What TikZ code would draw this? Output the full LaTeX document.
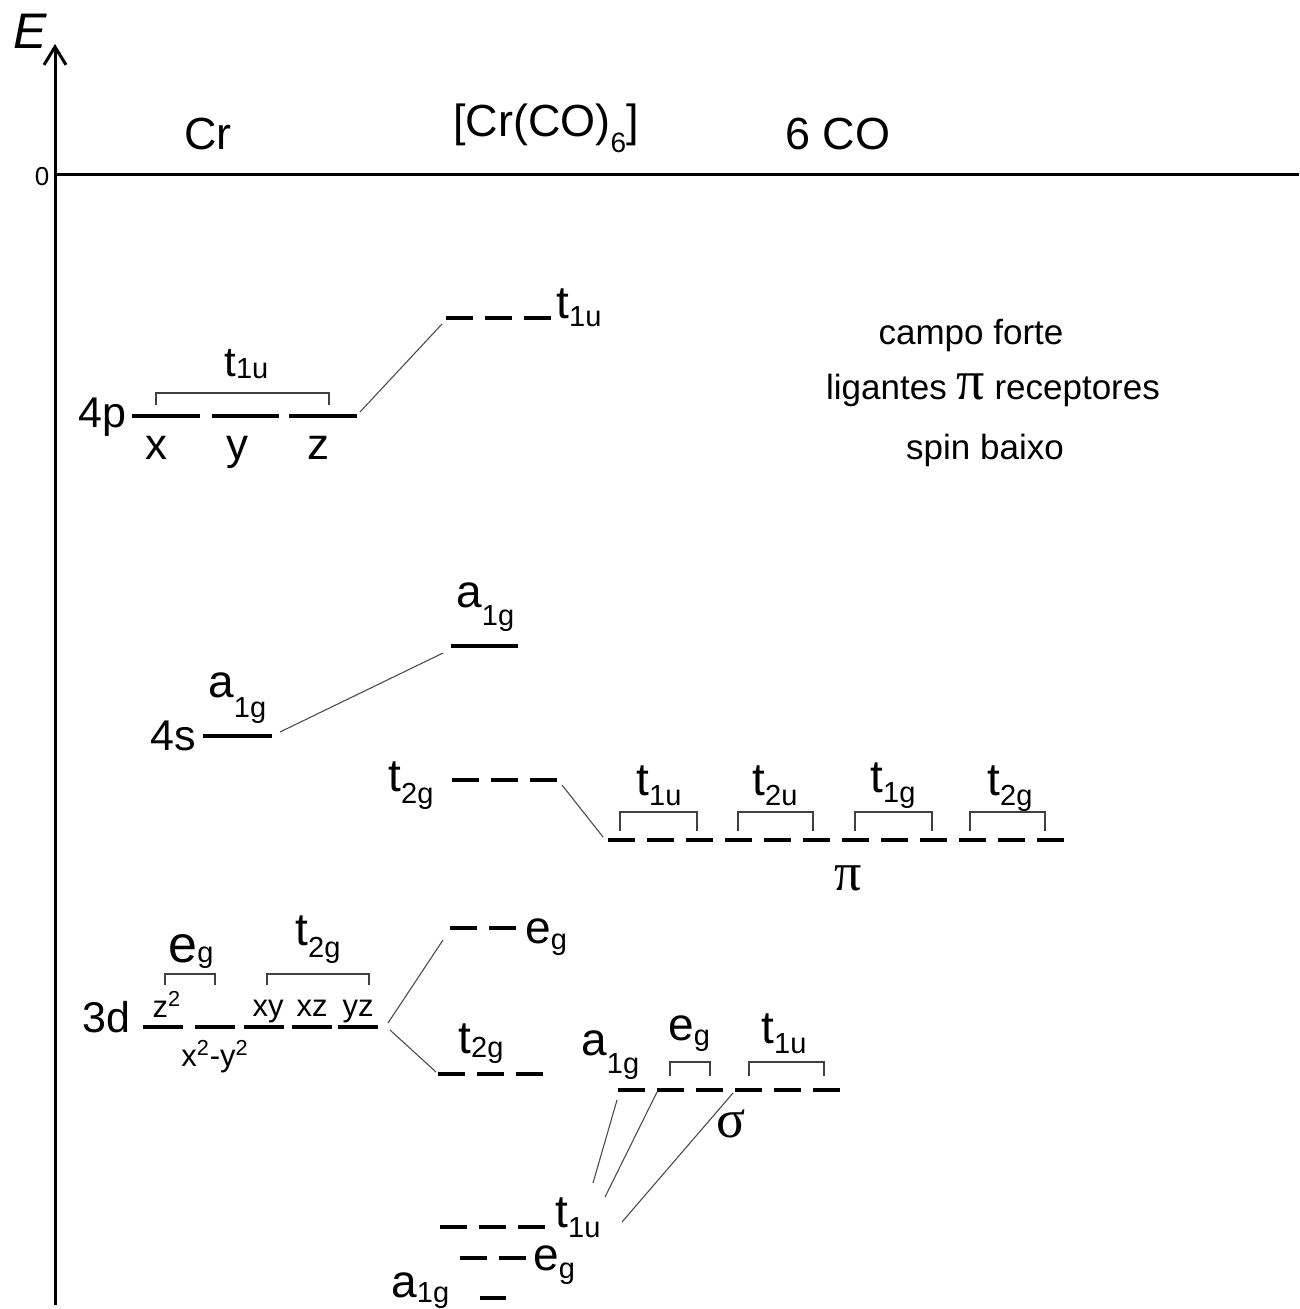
\documentclass[tikz,border=0pt]{standalone}
\usepackage{fontspec}
\setmainfont{Liberation Sans}
\newfontfamily\greekfont{Liberation Serif}
\usetikzlibrary{arrows.meta}

% orbital symbol with a lowered subscript
\newcommand{\orb}[3][4pt]{#2\raisebox{-#1}{\fontsize{14.5}{14.5}\selectfont #3}}

\begin{document}
\begin{tikzpicture}[
    x=0.5pt, y=-0.5pt,
    axis/.style={line width=1.5pt, draw=black},
    level/.style={line width=2.1pt, draw=black},
    dlevel/.style={line width=2.1pt, draw=black, dash pattern=on 13.5pt off 6pt},
    link/.style={line width=0.55pt, draw=black!70},
    bracket/.style={line width=0.7pt, draw=black!75},
    orblab/.style={font=\fontsize{23}{23}\selectfont, inner sep=0pt, anchor=base west},
    aolab/.style={font=\fontsize{21.5}{21.5}\selectfont, inner sep=0pt, anchor=base east},
    title/.style={font=\fontsize{22.5}{22.5}\selectfont, inner sep=0pt, anchor=base},
    comp/.style={font=\fontsize{15.5}{15.5}\selectfont, inner sep=0pt, anchor=base},
    greek/.style={font=\greekfont\fontsize{27}{27}\selectfont, inner sep=0pt},
    note/.style={font=\fontsize{17.5}{17.5}\selectfont, inner sep=0pt}
]
\useasboundingbox (0,0) rectangle (1299,1309);

    % Energy axis
    \coordinate (axisbot) at (55,1305);
    \coordinate (axistop) at (55,44);
    \coordinate (origin) at (55,175);
    \coordinate (zeroend) at (1299,175);
    \draw[axis, -{Straight Barb[length=9pt, width=11pt]}] (axisbot) -- (axistop);
    \draw[axis] (origin) -- (zeroend);
    \node[font=\fontsize{25}{25}\selectfont\itshape, inner sep=0pt] (E) at (30,31) {E};
    \node[font=\fontsize{13}{13}\selectfont, inner sep=0pt] (zero) at (42,177) {0};

    % Column headers
    \node[title] (Cr) at (208,150) {Cr};
    \node[title] (complex) at (546,137) {[Cr(CO)\raisebox{-8pt}{\fontsize{14}{14}\selectfont 6}]};
    \node[title] (ligCO) at (838,150) {6 CO};

    % Remarks
    \node[note] (field) at (971,335) {campo forte};
    \node[note] (accept) at (993,390) {ligantes {\greekfont\fontsize{28}{28}\selectfont π} receptores};
    \node[note] (spin) at (985,450) {spin baixo};

    % Cr 4p
    \node[aolab] (p4) at (127,428) {4p};
    \foreach \a/\b in {132/200,212/279,289/357}
        \draw[level] (\a,416) -- (\b,416);
    \node[comp, font=\fontsize{22}{22}\selectfont] (px) at (156,460) {x};
    \node[comp, font=\fontsize{22}{22}\selectfont] (py) at (237,460) {y};
    \node[comp, font=\fontsize{22}{22}\selectfont] (pz) at (318,460) {z};
    \draw[bracket] (156,405) -- (156,393) -- (329,393) -- (329,405);
    \node[orblab, font=\fontsize{21}{21}\selectfont] (p4sym) at (224,377) {\orb[1pt]{t}{1u}};

    % Cr 4s
    \node[aolab] (s4) at (196,750) {4s};
    \draw[level] (203,736) -- (272,736);
    \node[orblab] (s4sym) at (208,697) {\orb[10pt]{a}{1g}};

    % Cr 3d
    \node[aolab] (d3) at (131,1032) {3d};
    \foreach \a/\b in {143/183,195/235,244/284,292/332,338/378}
        \draw[level] (\a,1027) -- (\b,1027);
    \node[comp] (dz2) at (167,1017) {z\textsuperscript{2}};
    \node[comp] (dx2y2) at (215,1066) {x\textsuperscript{2}-y\textsuperscript{2}};
    \node[comp] (dxy) at (268,1016) {xy};
    \node[comp] (dxz) at (312,1016) {xz};
    \node[comp] (dyz) at (358,1016) {yz};
    \draw[bracket] (165,985) -- (165,974) -- (215,974) -- (215,985);
    \draw[bracket] (267,985) -- (267,974) -- (369,974) -- (369,985);
    \node[orblab, font=\fontsize{26}{26}\selectfont] (d3eg) at (168,962) {\orb[0pt]{e}{g}};
    \node[orblab] (d3t2g) at (295,945) {\orb[6pt]{t}{2g}};

    % Complex molecular orbitals
    \draw[dlevel] (446,318) -- (551,318);
    \node[orblab] (mot1u) at (556,319) {\orb[4pt]{t}{1u}};
    \draw[level] (451,646) -- (518,646);
    \node[orblab] (moa1g) at (456,607) {\orb[9pt]{a}{1g}};
    \draw[dlevel] (452,780) -- (557,780);
    \node[orblab] (mot2gnb) at (388,791) {\orb[6pt]{t}{2g}};
    \draw[dlevel] (450,928) -- (516,928);
    \node[orblab] (moegx) at (525,943) {\orb[3pt]{e}{g}};
    \draw[dlevel] (438,1074) -- (543,1074);
    \node[orblab] (mot2gb) at (458,1053) {\orb[2pt]{t}{2g}};
    \draw[dlevel] (440,1227) -- (545,1227);
    \node[orblab] (mot1ub) at (555,1227) {\orb[5pt]{t}{1u}};
    \draw[dlevel] (460,1258) -- (526,1258);
    \node[orblab] (moegb) at (533,1270) {\orb[4pt]{e}{g}};
    \draw[level] (480,1298) -- (506,1298);
    \node[orblab] (moa1gb) at (391,1297) {\orb[2.5pt]{a}{1g}};

    % Ligand pi set
    \draw[dlevel] (608,840) -- (1064,840);
    \foreach \a/\b in {620/697,738/813,855/932,970/1045}
        \draw[bracket] (\a,831) -- (\a,812) -- (\b,812) -- (\b,831);
    \node[orblab] (pit1u) at (636,795) {\orb[5pt]{t}{1u}};
    \node[orblab] (pit2u) at (752,795) {\orb[5pt]{t}{2u}};
    \node[orblab] (pit1g) at (870,792) {\orb[5pt]{t}{1g}};
    \node[orblab] (pit2g) at (987,795) {\orb[5pt]{t}{2g}};
    \node[greek] (pi) at (848,878) {π};

    % Ligand sigma set
    \draw[dlevel] (618,1090) -- (840,1090);
    \draw[bracket] (670,1076) -- (670,1062) -- (710,1062) -- (710,1076);
    \draw[bracket] (749,1076) -- (749,1062) -- (824,1062) -- (824,1076);
    \node[orblab] (sga1g) at (581,1055) {\orb[9pt]{a}{1g}};
    \node[orblab] (sgeg) at (668,1040) {\orb[2.5pt]{e}{g}};
    \node[orblab] (sgt1u) at (761,1043) {\orb[5pt]{t}{1u}};
    \node[greek] (sigma) at (731,1124) {σ};

    % Correlation lines
    \coordinate (p4-r) at (360,412);
    \coordinate (mot1u-l) at (442,324);
    \coordinate (s4-r) at (280,732);
    \coordinate (moa1g-l) at (443,653);
    \coordinate (mot2gnb-r) at (562,785);
    \coordinate (pi-l) at (603,837);
    \coordinate (d3-up) at (388,1023);
    \coordinate (moegx-l) at (443,940);
    \coordinate (d3-dn) at (390,1030);
    \coordinate (mot2gb-l) at (436,1072);
    \coordinate (b-a) at (593,1183);
    \coordinate (b-b) at (605,1197);
    \coordinate (b-c) at (622,1222);
    \coordinate (sg-a) at (617,1100);
    \coordinate (sg-b) at (657,1092);
    \coordinate (sg-c) at (733,1093);
    \draw[link] (p4-r) -- (mot1u-l);
    \draw[link] (s4-r) -- (moa1g-l);
    \draw[link] (mot2gnb-r) -- (pi-l);
    \draw[link] (d3-up) -- (moegx-l);
    \draw[link] (d3-dn) -- (mot2gb-l);
    \draw[link] (b-a) -- (sg-a);
    \draw[link] (b-b) -- (sg-b);
    \draw[link] (b-c) -- (sg-c);

\end{tikzpicture}
\end{document}
